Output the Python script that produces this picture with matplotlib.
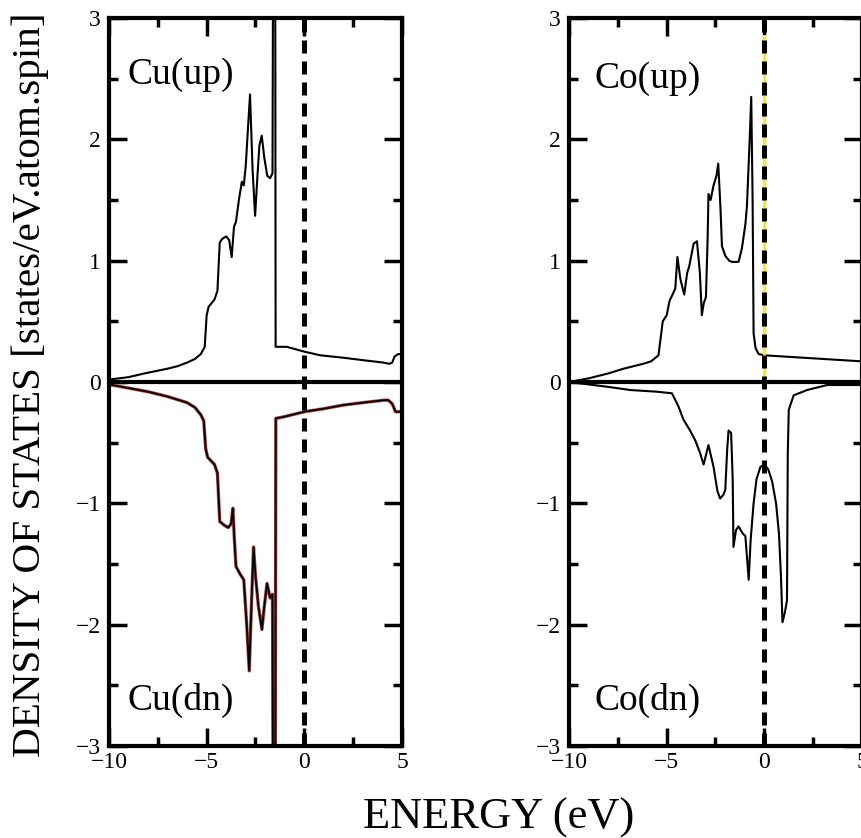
import matplotlib
matplotlib.use("Agg")
import matplotlib.pyplot as plt
from matplotlib.ticker import MultipleLocator

plt.rcParams['font.family'] = ['Liberation Serif', 'DejaVu Serif']
plt.rcParams['mathtext.fontset'] = 'stix'

# ---------------- data ----------------
cu_up_E = [-10, -9, -8.2, -7, -6.5, -6, -5.6, -5.3, -5.1, -5.0, -4.9, -4.6, -4.45, -4.33, -4.2,
           -4.0, -3.85, -3.72, -3.6, -3.5, -3.35, -3.2, -3.1, -3.0, -2.9, -2.78, -2.65, -2.52,
           -2.4, -2.3, -2.18, -2.05, -1.9, -1.75, -1.63, -1.6, -1.49, -1.47, -0.9, 0, 0.82, 2,
           3, 4.05, 4.35, 4.5, 4.62, 4.8, 5]
cu_up_D = [0.02, 0.04, 0.07, 0.11, 0.13, 0.16, 0.19, 0.23, 0.29, 0.55, 0.62, 0.68, 0.75, 1.15, 1.18,
           1.20, 1.17, 1.03, 1.28, 1.32, 1.50, 1.65, 1.62, 1.78, 2.05, 2.37, 1.75, 1.37,
           1.70, 1.95, 2.03, 1.85, 1.70, 1.68, 1.72, 3.5, 3.5, 0.29, 0.29, 0.25, 0.22, 0.20,
           0.18, 0.16, 0.15, 0.16, 0.21, 0.23, 0.23]

cu_dn_E = [-10, -9, -8, -7, -6, -5.6, -5.3, -5.15, -5.05, -4.95, -4.6, -4.45, -4.33, -4.1, -3.9,
           -3.75, -3.66, -3.58, -3.5, -3.3, -3.1, -2.95, -2.82, -2.7, -2.6, -2.5, -2.35, -2.17,
           -2.05, -1.91, -1.75, -1.63, -1.6, -1.49, -1.46, -1.0, 0, 1, 2, 3, 4.07, 4.3, 4.5,
           4.67, 5]
cu_dn_D = [-0.02, -0.05, -0.08, -0.12, -0.17, -0.21, -0.27, -0.32, -0.55, -0.62, -0.68, -0.75, -1.15, -1.18, -1.20,
           -1.17, -1.04, -1.30, -1.52, -1.58, -1.63, -2.00, -2.38, -1.80, -1.36, -1.60, -1.85, -2.04,
           -1.85, -1.66, -1.78, -1.75, -3.5, -3.5, -0.30, -0.285, -0.245, -0.22, -0.19, -0.17, -0.15, -0.15, -0.18,
           -0.245, -0.245]

co_up_E = [-10, -9, -8, -7.2, -6.2, -5.8, -5.42, -5.2, -5.0, -4.85, -4.7, -4.56, -4.45, -4.3, -4.1,
           -3.95, -3.85, -3.62, -3.45, -3.3, -3.2, -3.1, -2.99, -2.9, -2.86, -2.75, -2.6, -2.45,
           -2.36, -2.25, -2.17, -2.0, -1.8, -1.66, -1.32, -1.15, -0.97, -0.89, -0.75, -0.67, -0.6,
           -0.55, -0.45, -0.29, 0, 1, 2, 3, 4, 5]
co_up_D = [0.0, 0.03, 0.07, 0.11, 0.15, 0.17, 0.22, 0.50, 0.55, 0.67, 0.72, 0.77, 1.03, 0.85, 0.72,
           0.90, 0.95, 1.14, 1.16, 0.90, 0.55, 0.65, 0.70, 1.20, 1.55, 1.50, 1.62, 1.70,
           1.80, 1.45, 1.12, 1.04, 1.0, 0.99, 0.99, 1.10, 1.30, 1.45, 2.0, 2.35, 1.5,
           0.40, 0.28, 0.23, 0.22, 0.21, 0.20, 0.19, 0.18, 0.17]

co_dn_E = [-10, -9, -8, -6.87, -5.5, -4.73, -4.4, -4.14, -3.8, -3.54, -3.3, -3.11, -2.86, -2.6,
           -2.4, -2.26, -2.1, -2.0, -1.9, -1.83, -1.7, -1.62, -1.58, -1.45, -1.32, -1.1, -0.97,
           -0.8, -0.7, -0.55, -0.4, -0.2, 0, 0.2, 0.4, 0.6, 0.75, 0.85, 0.93, 1.05, 1.16, 1.2,
           1.25, 1.5, 2.19, 3.21, 5]
co_dn_D = [0.0, -0.02, -0.04, -0.066, -0.08, -0.093, -0.2, -0.31, -0.40, -0.48, -0.58, -0.68, -0.52, -0.70,
           -0.90, -0.96, -0.93, -0.89, -0.55, -0.40, -0.42, -0.80, -1.36, -1.22, -1.19, -1.25, -1.27,
           -1.63, -1.30, -1.00, -0.80, -0.70, -0.68, -0.72, -0.82, -1.00, -1.25, -1.60, -1.98, -1.90, -1.80, -0.60,
           -0.23, -0.11, -0.066, -0.025, -0.025]

panel_labels = [("Cu(up)", "Cu(dn)"), ("Co(up)", "Co(dn)")]
x_ticks = [-10, -5, 0, 5]
y_ticks = [-3, -2, -1, 0, 1, 2, 3]

# ---------------- figure ----------------
W, H = 861, 838
fig = plt.figure(figsize=(W / 100, H / 100), dpi=100)

ax1 = fig.add_axes([109 / W, 92 / H, 293 / W, 728 / H])
ax2 = fig.add_axes([569 / W, 92 / H, 293 / W, 728 / H])

dash = (0, (2.6, 1.6))

for ax in (ax1, ax2):
    ax.set_xlim(-10, 5)
    ax.set_ylim(-3, 3)
    ax.set_xticks(x_ticks)
    ax.set_yticks(y_ticks)
    ax.xaxis.set_minor_locator(MultipleLocator(2.5))
    ax.yaxis.set_minor_locator(MultipleLocator(0.5))
    ax.tick_params(which='both', direction='in', top=True, right=True, width=2.5,
                   labelsize=17, colors='black')
    ax.tick_params(which='major', length=13, pad=6)
    ax.tick_params(which='minor', length=6.5)
    ax.tick_params(axis='x', pad=4)
    for s in ax.spines.values():
        s.set_linewidth(3)
    ax.axhline(0, color='black', lw=3, zorder=4)

# Cu panel
ax1.plot(cu_up_E, cu_up_D, color='black', lw=1.5, zorder=3)
ax1.plot(cu_dn_E, cu_dn_D, color='#b04040', lw=2.4, zorder=2)
ax1.plot(cu_dn_E, cu_dn_D, color='black', lw=1.3, zorder=3)
ax1.axvline(0, color='black', lw=3.6, linestyle=dash, zorder=5)

# Co panel
ax2.plot(co_up_E, co_up_D, color='black', lw=1.5, zorder=3)
ax2.plot(co_dn_E, co_dn_D, color='black', lw=1.5, zorder=3)
ax2.plot([0, 0], [0, 2.85], color='#ffee00', lw=2.2, zorder=4.5)
ax2.axvline(0, color='black', lw=3.6, linestyle=dash, zorder=5)

# panel labels
lab_kw = dict(fontsize=27, va='baseline', ha='left')
ax1.text(-9.03, 2.46, panel_labels[0][0], **lab_kw)
ax1.text(-9.03, -2.70, panel_labels[0][1], **lab_kw)
ax2.text(-8.67, 2.42, panel_labels[1][0], **lab_kw)
ax2.text(-8.67, -2.70, panel_labels[1][1], **lab_kw)

# axis titles
fig.text(30 / W, 1 - 385 / H, "DENSITY OF STATES [states/eV.atom.spin]", rotation=90,
         fontsize=29.6, ha='center', va='center')
fig.text(499 / W, 9 / H, "ENERGY (eV)", fontsize=32, ha='center', va='baseline')

fig.savefig("out.png", dpi=100)
